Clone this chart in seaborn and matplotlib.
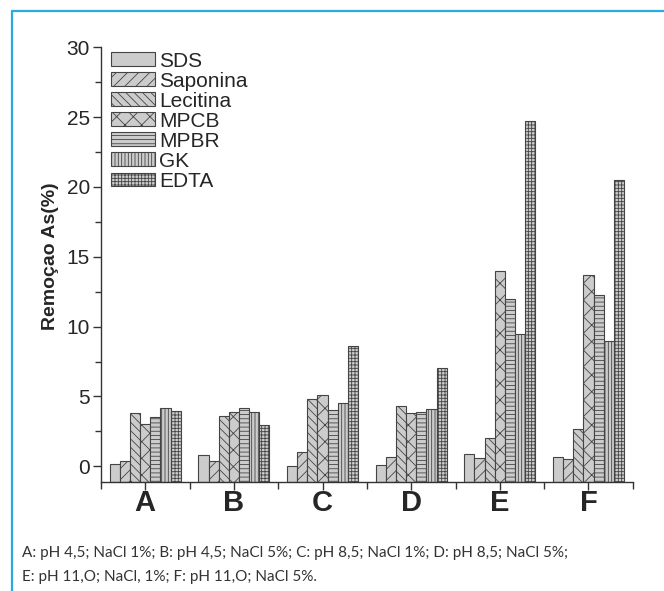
import seaborn as sns
import pandas as pd
import matplotlib.pyplot as plt
from matplotlib.lines import Line2D
from matplotlib.patches import Patch
from matplotlib.ticker import MultipleLocator, FixedLocator

# Data
conditions = ['A', 'B', 'C', 'D', 'E', 'F']
surfactants = ['SDS', 'Saponina', 'Lecitina', 'MPCB', 'MPBR', 'GK', 'EDTA']
sds = [0.2, 0.8, 0.05, 0.1, 0.85, 0.7]
saponina = [0.35, 0.4, 1.05, 0.65, 0.6, 0.55]
lecitina = [3.85, 3.6, 4.85, 4.3, 2.05, 2.65]
mpcb = [3.0, 3.9, 5.1, 3.8, 14.0, 13.7]
mpbr = [3.55, 4.2, 4.0, 3.9, 12.0, 12.3]
gk = [4.2, 3.9, 4.5, 4.1, 9.5, 8.95]
edta = [3.95, 2.95, 8.6, 7.05, 24.75, 20.5]
caption = ('A: pH 4,5; NaCl 1%; B: pH 4,5; NaCl 5%; C: pH 8,5; NaCl 1%; D: pH 8,5; NaCl 5%;\n'
           'E: pH 11,O; NaCl, 1%; F: pH 11,O; NaCl 5%.')

series = [sds, saponina, lecitina, mpcb, mpbr, gk, edta]
hatches = ['', '///', '\\\\\\\\', 'xx', '----', '|||||', '+++++']

rows = []
for name, vals in zip(surfactants, series):
    for cond, v in zip(conditions, vals):
        rows.append({'cond': cond, 'surf': name, 'val': v})
df = pd.DataFrame(rows)

sns.set_theme(style='ticks')
plt.rcParams['font.family'] = ['Liberation Sans', 'DejaVu Sans']
plt.rcParams['font.sans-serif'] = ['Liberation Sans', 'DejaVu Sans']
plt.rcParams['hatch.linewidth'] = 0.6
plt.rcParams['hatch.color'] = '#444444'
arial = ['Liberation Sans', 'DejaVu Sans']

fig = plt.figure(figsize=(6.64, 5.91), dpi=100)
ax = fig.add_axes([0.152, 0.185, 0.801, 0.735])

ymin = -1.1
sns.barplot(data=df, x='cond', y='val', hue='surf', order=conditions,
            hue_order=surfactants, palette=['#cccccc'] * 7, width=0.8,
            edgecolor='#444444', linewidth=0.8, saturation=1, legend=False,
            ax=ax)

# hatches and bars starting at the bottom of the axis (Origin style)
for cont, h in zip(ax.containers, hatches):
    for p in cont.patches:
        p.set_hatch(h)
        top = p.get_height()
        p.set_y(ymin)
        p.set_height(top - ymin)

ax.set_ylim(ymin, 30)
ax.set_xlim(-0.5, 5.5)
ax.yaxis.set_major_locator(MultipleLocator(5))
ax.yaxis.set_minor_locator(MultipleLocator(2.5))
ax.xaxis.set_minor_locator(FixedLocator([i - 0.5 for i in range(7)]))
ax.tick_params(axis='y', which='major', length=6, width=1, labelsize=15,
               color='#333333', pad=2)
ax.tick_params(axis='y', which='minor', length=4, width=1, color='#333333')
ax.tick_params(axis='x', which='major', length=6, width=1, color='#333333',
               pad=-1)
ax.tick_params(axis='x', which='minor', length=5, width=1, color='#333333')
for lab in ax.get_yticklabels():
    lab.set_family(arial)
for lab in ax.get_xticklabels():
    lab.set_fontsize(21)
    lab.set_fontweight('bold')
    lab.set_family(arial)
ax.set_xlabel('')
ax.set_ylabel('Remoçao As(%)', fontsize=14, fontweight='bold', family=arial)
ax.yaxis.set_label_coords(-0.078, 0.52)
for s in ['top', 'right']:
    ax.spines[s].set_visible(False)
for s in ['left', 'bottom']:
    ax.spines[s].set_color('#333333')
    ax.spines[s].set_linewidth(1)

handles = [Patch(facecolor='#cccccc', edgecolor='#444444', linewidth=0.8,
                 hatch=h) for h in hatches]
ax.legend(handles, surfactants, loc='upper left',
          bbox_to_anchor=(0.006, 1.007),
          frameon=False, prop={'family': arial, 'size': 15}, handlelength=2.1,
          handleheight=0.65, handletextpad=0.2, labelspacing=0.05,
          borderpad=0.1, borderaxespad=0.25)

# caption below the chart
fig.text(22 / 664, 1 - 565 / 591, caption, fontsize=11, color='#333333',
         family=['Lato', 'DejaVu Sans'], va='center', ha='left',
         linespacing=1.9)

# light blue frame lines
fig.add_artist(Line2D([12 / 664, 1], [1 - 11 / 591, 1 - 11 / 591],
                      color='#29abe2', lw=1.6, transform=fig.transFigure))
fig.add_artist(Line2D([12 / 664, 12 / 664], [0, 1 - 11 / 591],
                      color='#29abe2', lw=1.6, transform=fig.transFigure))

fig.savefig('out.png', dpi=100)
